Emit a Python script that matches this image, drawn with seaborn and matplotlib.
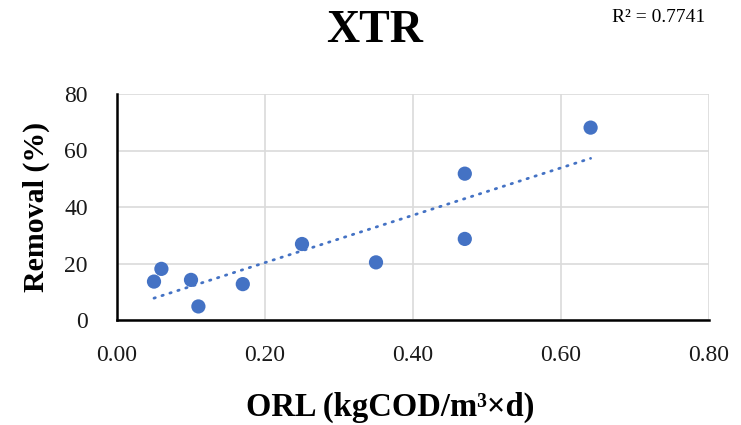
import seaborn as sns
import matplotlib.pyplot as plt
import pandas as pd

# values
orl = [0.05, 0.06, 0.10, 0.11, 0.17, 0.25, 0.35, 0.47, 0.47, 0.64]
removal = [13.6, 18.1, 14.2, 4.8, 12.7, 26.9, 20.4, 51.8, 28.7, 68.1]
x_ticks = [0.0, 0.2, 0.4, 0.6, 0.8]
y_ticks = [0, 20, 40, 60, 80]
title = "XTR"
r2_label = "R² = 0.7741"

df = pd.DataFrame({"ORL": orl, "Removal": removal})

sns.set_style("white")
plt.rcParams["font.family"] = ["Liberation Serif", "DejaVu Serif"]
plt.rcParams["text.color"] = "black"
plt.rcParams["axes.labelcolor"] = "black"

blue = "#4472C4"

fig = plt.figure(figsize=(7.41, 4.25), dpi=100)
ax = fig.add_axes([117 / 741, 105 / 425, 592 / 741, 226 / 425])

sns.regplot(data=df, x="ORL", y="Removal", ax=ax, ci=None,
            scatter_kws=dict(s=105, color=blue, edgecolors="none", alpha=1, zorder=3),
            line_kws=dict(color=blue, lw=2.0, linestyle=(0, (0.5, 2.5)),
                          dash_capstyle="round", zorder=2))

ax.set_xlim(0, 0.8)
ax.set_ylim(0, 80)
ax.set_xticks(x_ticks)
ax.set_yticks(y_ticks)
ax.set_xticklabels([f"{v:.2f}" for v in x_ticks])
ax.set_yticklabels([str(v) for v in y_ticks])
ax.tick_params(axis="both", length=0, labelsize=17, colors="#1a1a1a")
ax.tick_params(axis="x", pad=18)
ax.tick_params(axis="y", pad=21)

ax.grid(True, color="#DADADA", lw=1.2)
ax.set_axisbelow(True)
for side in ["top", "right"]:
    ax.spines[side].set_visible(False)
for side in ["left", "bottom"]:
    ax.spines[side].set_color("black")
    ax.spines[side].set_linewidth(1.8)

ax.set_xlabel("ORL (kgCOD/m³×d)", fontsize=23.5, fontweight="bold", va="center")
ax.set_ylabel("Removal (%)", fontsize=21.5, fontweight="bold", va="center")
ax.xaxis.set_label_coords((390 - 117) / 592, -(407 - 320) / 226)
ax.yaxis.set_label_coords(-(117 - 36) / 592, 0.5)

fig.text(375 / 741, 1 - 31 / 425, title, fontsize=33, fontweight="bold",
         ha="center", va="center")
fig.text(612 / 741, 1 - 18 / 425, r2_label, fontsize=14, ha="left", va="center")

fig.savefig("out.png", dpi=100)
